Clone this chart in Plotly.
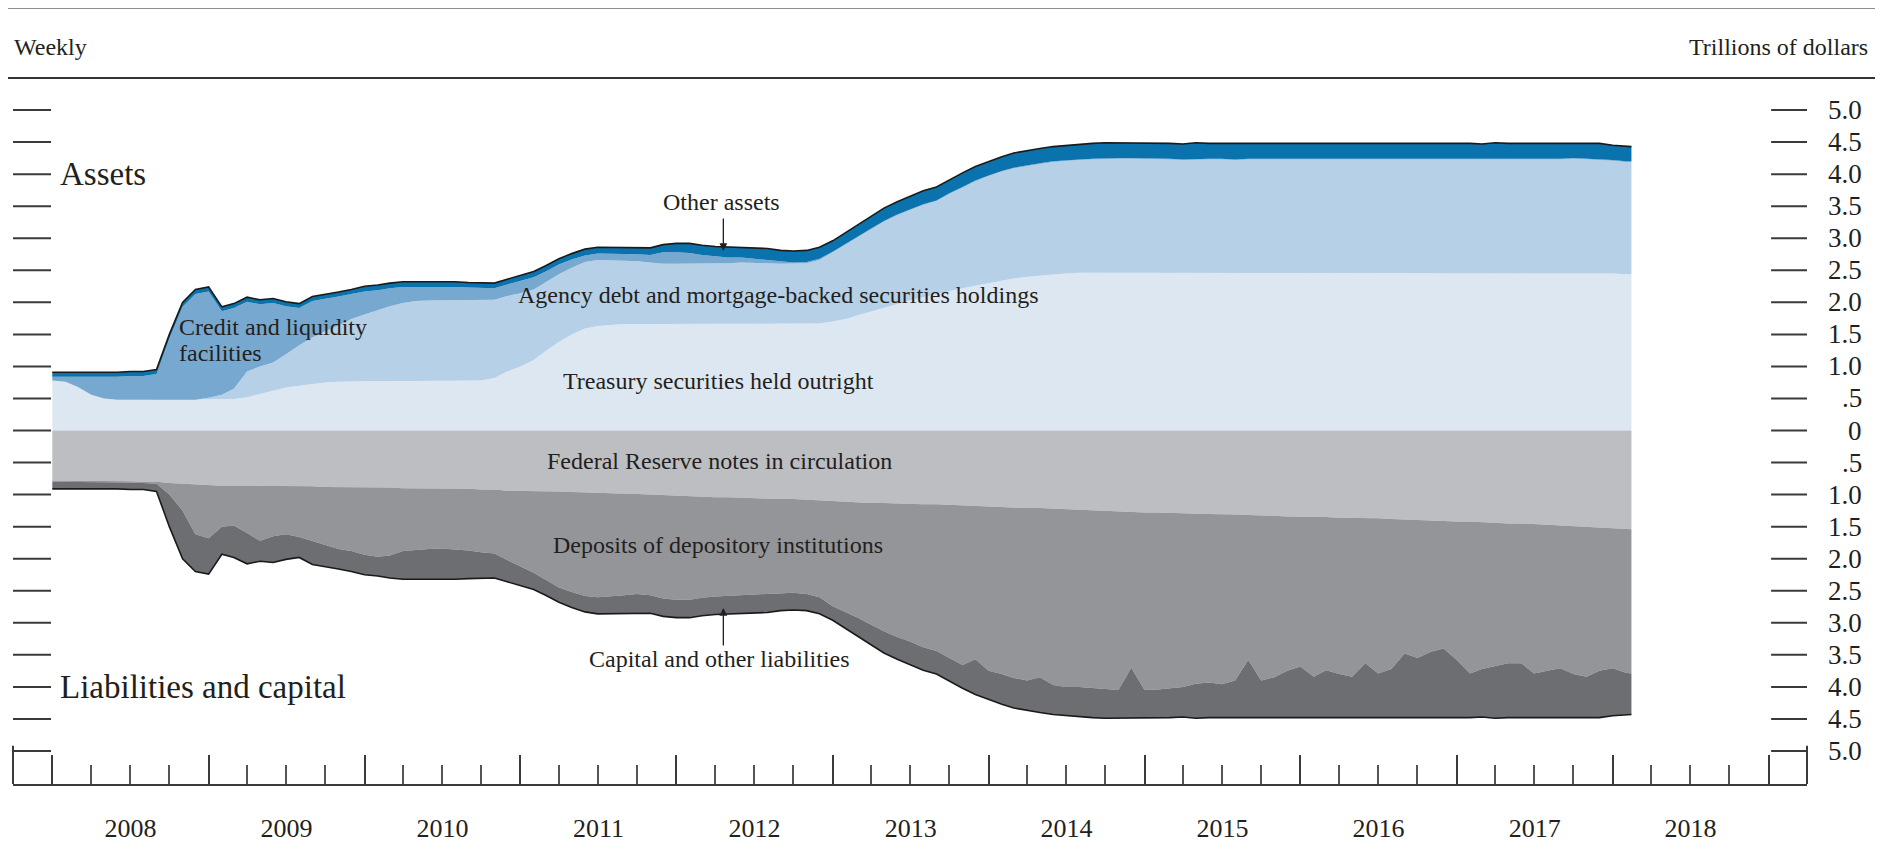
import pandas as pd
import plotly.graph_objects as go

# ---- data (trillions of dollars), monthly ----
dates = [d.strftime("%Y-%m-%d") for d in pd.date_range("2008-01-01", "2018-02-01", freq="MS")] + ["2018-02-14"]

treasury = [
    .78, .76, .68, .56, .50, .48, .48, .48, .48, .48, .48, .48,
    .48, .48, .49, .52, .57, .62, .67, .70, .73, .75, .76, .77,
    .77, .77, .77, .77, .77, .77, .77, .77, .77, .78, .82, .92,
    1.00, 1.10, 1.24, 1.38, 1.50, 1.59, 1.63, 1.65, 1.66, 1.66, 1.66, 1.66,
    1.66, 1.66, 1.66, 1.66, 1.66, 1.66, 1.66, 1.66, 1.66, 1.66, 1.66, 1.67,
    1.70, 1.74, 1.80, 1.86, 1.92, 1.98, 2.03, 2.08, 2.13, 2.18, 2.22, 2.26,
    2.30, 2.34, 2.37, 2.40, 2.42, 2.44, 2.45, 2.46, 2.46, 2.46, 2.46, 2.46,
    2.46, 2.46, 2.46, 2.46, 2.46, 2.46, 2.46, 2.46, 2.46, 2.46, 2.46, 2.46,
    2.46, 2.46, 2.46, 2.46, 2.46, 2.46, 2.46, 2.46, 2.46, 2.46, 2.46, 2.46,
    2.46, 2.46, 2.46, 2.46, 2.46, 2.46, 2.46, 2.46, 2.46, 2.46, 2.46, 2.46,
    2.45, 2.44, 2.44,
]
agency = [
    0, 0, 0, 0, 0, 0, 0, 0, 0, 0, 0, 0,
    .03, .08, .16, .40, .43, .44, .52, .63, .72, .80, .88, .97,
    1.04, 1.11, 1.17, 1.22, 1.25, 1.26, 1.26, 1.26, 1.26, 1.25, 1.22, 1.18,
    1.14, 1.10, 1.08, 1.06, 1.04, 1.04, 1.03, 1.01, .99, .98, .96, .94,
    .94, .94, .95, .95, .95, .96, .96, .95, .94, .94, .95, .99,
    1.08, 1.16, 1.22, 1.28, 1.34, 1.38, 1.41, 1.44, 1.45, 1.51, 1.57, 1.63,
    1.67, 1.70, 1.72, 1.73, 1.74, 1.75, 1.76, 1.76, 1.77, 1.78, 1.78, 1.78,
    1.78, 1.77, 1.77, 1.76, 1.77, 1.77, 1.77, 1.76, 1.77, 1.77, 1.76, 1.77,
    1.77, 1.76, 1.76, 1.77, 1.77, 1.76, 1.77, 1.77, 1.77, 1.76, 1.77, 1.77,
    1.77, 1.77, 1.76, 1.77, 1.77, 1.77, 1.77, 1.77, 1.77, 1.78, 1.77, 1.77,
    1.76, 1.75, 1.75,
]
credit = [
    .06, .08, .16, .27, .33, .36, .37, .37, .40, .95, 1.45, 1.65,
    1.66, 1.30, 1.26, 1.09, .97, .93, .75, .58, .57, .50, .45, .39,
    .36, .31, .28, .25, .22, .22, .22, .21, .20, .20, .18, .18,
    .19, .19, .16, .15, .13, .10, .10, .10, .11, .11, .12, .18,
    .18, .17, .13, .11, .09, .08, .06, .06, .04, .02, .02, .02,
    .01, .01, .01, .01, .01, .01, .01, .01, .01, .01, .01, .01,
    .01, .01, .01, .01, .01, .01, .01, .01, .01, .01, .01, .01,
    .01, .01, .01, .01, .01, .01, .01, .01, .01, .01, .01, .01,
    .01, .01, .01, .01, .01, .01, .01, .01, .01, .01, .01, .01,
    .01, .01, .01, .01, .01, .01, .01, .01, .01, .01, .01, .01,
    .01, .01, .01,
]
other_assets = [
    .07, .07, .07, .07, .07, .07, .07, .07, .07, .07, .07, .07,
    .07, .07, .07, .07, .07, .07, .07, .07, .07, .07, .07, .07,
    .08, .08, .08, .08, .08, .08, .08, .08, .08, .08, .08, .08,
    .09, .09, .09, .09, .09, .10, .10, .10, .10, .10, .11, .12,
    .14, .15, .15, .15, .16, .16, .17, .17, .17, .18, .18, .18,
    .17, .18, .19, .20, .20, .20, .20, .21, .21, .21, .22, .22,
    .22, .22, .23, .23, .23, .23, .23, .24, .24, .24, .24, .24,
    .24, .25, .24, .24, .25, .24, .24, .25, .24, .24, .25, .24,
    .24, .25, .25, .24, .24, .25, .24, .24, .25, .25, .24, .24,
    .25, .24, .24, .25, .24, .24, .25, .24, .24, .24, .24, .24,
    .23, .23, .23,
]

notes = [
    .78, .78, .78, .78, .78, .79, .79, .80, .80, .82, .83, .85,
    .85, .86, .86, .86, .87, .87, .87, .87, .87, .88, .88, .89,
    .89, .89, .89, .90, .90, .90, .90, .91, .91, .92, .92, .94,
    .94, .94, .95, .95, .96, .96, .97, .98, .98, .99, 1.00, 1.01,
    1.02, 1.02, 1.03, 1.04, 1.04, 1.05, 1.05, 1.06, 1.07, 1.07, 1.08, 1.10,
    1.11, 1.12, 1.12, 1.13, 1.13, 1.14, 1.14, 1.15, 1.15, 1.16, 1.16, 1.18,
    1.18, 1.19, 1.20, 1.21, 1.21, 1.22, 1.23, 1.23, 1.24, 1.25, 1.26, 1.28,
    1.28, 1.28, 1.29, 1.29, 1.30, 1.30, 1.31, 1.31, 1.32, 1.32, 1.33, 1.34,
    1.34, 1.35, 1.35, 1.36, 1.36, 1.37, 1.37, 1.38, 1.39, 1.39, 1.40, 1.42,
    1.42, 1.42, 1.43, 1.44, 1.45, 1.45, 1.46, 1.47, 1.48, 1.49, 1.50, 1.52,
    1.53, 1.54, 1.54,
]
deposits = [
    .02, .02, .02, .02, .02, .02, .02, .02, .03, .18, .42, .77,
    .83, .64, .62, .74, .85, .78, .75, .79, .85, .90, .97, .99,
    1.05, 1.08, 1.06, .98, .96, .95, .94, .94, .96, .98, 1.00, 1.08,
    1.18, 1.28, 1.38, 1.50, 1.56, 1.62, 1.63, 1.61, 1.59, 1.56, 1.57, 1.61,
    1.62, 1.62, 1.58, 1.55, 1.54, 1.52, 1.51, 1.50, 1.47, 1.46, 1.47, 1.50,
    1.63, 1.71, 1.80, 1.90, 2.00, 2.08, 2.15, 2.23, 2.29, 2.39, 2.50, 2.39,
    2.57, 2.61, 2.66, 2.69, 2.64, 2.75, 2.77, 2.77, 2.78, 2.79, 2.79, 2.42,
    2.77, 2.76, 2.73, 2.71, 2.65, 2.63, 2.65, 2.59, 2.26, 2.58, 2.52, 2.41,
    2.34, 2.49, 2.39, 2.44, 2.48, 2.26, 2.42, 2.34, 2.09, 2.16, 2.05, 1.98,
    2.16, 2.37, 2.29, 2.24, 2.18, 2.18, 2.33, 2.28, 2.23, 2.31, 2.34, 2.23,
    2.18, 2.24, 2.25,
]
capital = [
    .11, .11, .11, .10, .10, .10, .11, .10, .12, .50, .75, .58,
    .56, .43, .50, .48, .32, .41, .39, .32, .37, .34, .31, .32,
    .31, .30, .35, .44, .46, .48, .49, .47, .44, .41, .38, .34,
    .30, .26, .24, .23, .24, .25, .26, .27, .29, .30, .28, .28,
    .28, .28, .28, .28, .28, .29, .29, .28, .27, .27, .26, .26,
    .22, .26, .30, .32, .34, .35, .36, .36, .36, .36, .36, .55,
    .45, .47, .47, .47, .55, .46, .45, .47, .46, .45, .44, .79,
    .44, .45, .46, .47, .54, .55, .52, .58, .90, .58, .63, .73,
    .80, .64, .74, .68, .64, .85, .69, .76, 1.01, .93, 1.03, 1.08,
    .91, .69, .75, .81, .85, .85, .70, .73, .77, .69, .64, .73,
    .74, .65, .64,
]

y_ticks = [5.0, 4.5, 4.0, 3.5, 3.0, 2.5, 2.0, 1.5, 1.0, 0.5, 0,
           -0.5, -1.0, -1.5, -2.0, -2.5, -3.0, -3.5, -4.0, -4.5, -5.0]
y_tick_labels = ["5.0", "4.5", "4.0", "3.5", "3.0", "2.5", "2.0", "1.5", "1.0", ".5", "0",
                 ".5", "1.0", "1.5", "2.0", "2.5", "3.0", "3.5", "4.0", "4.5", "5.0"]

for s in (treasury, agency, credit, other_assets, notes, deposits, capital):
    assert len(s) == len(dates)

FONT = "Liberation Serif, Times New Roman, serif"
INK = "#231f20"

fig = go.Figure()

asset_layers = [
    ("Treasury securities held outright", treasury, "#dde7f2"),
    ("Agency debt and MBS", agency, "#b6d0e7"),
    ("Credit and liquidity facilities", credit, "#76a8d0"),
    ("Other assets", other_assets, "#0a72ad"),
]
for name, vals, color in asset_layers:
    top = name == "Other assets"
    fig.add_trace(go.Scatter(
        x=dates, y=vals, name=name, stackgroup="assets", mode="lines",
        fillcolor=color,
        line=dict(color="#1a1a1a" if top else color, width=1.6 if top else 0),
        hoverinfo="skip",
    ))

liab_layers = [
    ("Federal Reserve notes in circulation", notes, "#bdbec2"),
    ("Deposits of depository institutions", deposits, "#939598"),
    ("Capital and other liabilities", capital, "#6d6e72"),
]
for name, vals, color in liab_layers:
    bottom = name.startswith("Capital")
    fig.add_trace(go.Scatter(
        x=dates, y=[-v for v in vals], name=name, stackgroup="liab", mode="lines",
        fillcolor=color,
        line=dict(color="#1a1a1a" if bottom else color, width=1.6 if bottom else 0),
        hoverinfo="skip",
    ))

# tick marks and frame pieces
shapes = []
for v in y_ticks:
    shapes.append(dict(type="line", xref="paper", yref="y", x0=0, x1=0.0212, y0=v, y1=v,
                       line=dict(color="#3a3a3a", width=2)))
    shapes.append(dict(type="line", xref="paper", yref="y", x0=0.98, x1=1.0, y0=v, y1=v,
                       line=dict(color="#3a3a3a", width=2)))
for xp in (0, 1):
    shapes.append(dict(type="line", xref="paper", yref="y", x0=xp, x1=xp, y0=-5.515, y1=-4.92,
                       line=dict(color="#3a3a3a", width=2)))
# rule under the header
shapes.append(dict(type="line", xref="paper", yref="paper", x0=-0.003, x1=1.05, y0=1.0, y1=1.0,
                   line=dict(color="#333", width=2)))
# what is left of the thick top bar (page body margin eats most of it)
shapes.append(dict(type="rect", xref="paper", yref="paper", x0=-0.003, x1=1.05, y0=1.0984, y1=1.12,
                   fillcolor="#1e1e1e", line=dict(width=0)))

annotations = []
for v, lab in zip(y_ticks, y_tick_labels):
    annotations.append(dict(xref="paper", yref="y", x=1.0317, y=v, text=lab, showarrow=False,
                            xanchor="right", yanchor="middle", font=dict(size=27)))


def label(x, y, text, size=24, xanchor="center", xref="x"):
    annotations.append(dict(xref=xref, yref="y", x=x, y=y, text=text, showarrow=False,
                            xanchor=xanchor, yanchor="middle", font=dict(size=size)))


label(0.0251, 4.0, "Assets", size=33, xanchor="left", xref="paper")
label(0.0251, -4.0, "Liabilities and capital", size=33, xanchor="left", xref="paper")
label("2008-10-19", 1.61, "Credit and liquidity", xanchor="left")
label("2008-10-19", 1.21, "facilities", xanchor="left")
label("2012-04-15", 3.56, "Other assets")
label("2012-08-28", 2.11, "Agency debt and mortgage-backed securities holdings")
label("2012-04-08", 0.77, "Treasury securities held outright")
label("2012-04-10", -0.48, "Federal Reserve notes in circulation")
label("2012-04-08", -1.79, "Deposits of depository institutions")
label("2012-04-10", -3.56, "Capital and other liabilities")

# arrows
annotations.append(dict(x="2012-04-20", y=2.80, xref="x", yref="y", text="", showarrow=True,
                        ax=0, ay=-34, arrowhead=2, arrowsize=1.2, arrowwidth=1.3, arrowcolor=INK))
annotations.append(dict(x="2012-04-20", y=-2.77, xref="x", yref="y", text="", showarrow=True,
                        ax=0, ay=39, arrowhead=2, arrowsize=1.2, arrowwidth=1.3, arrowcolor=INK))

# header
annotations.append(dict(xref="paper", yref="paper", x=-0.0006, y=1.0439, text="Weekly",
                        showarrow=False, xanchor="left", yanchor="middle", font=dict(size=24)))
annotations.append(dict(xref="paper", yref="paper", x=1.035, y=1.0439, text="Trillions of dollars",
                        showarrow=False, xanchor="right", yanchor="middle", font=dict(size=24)))

# the page body has an 8px margin, so the figure is 8px smaller and shifted up/left
fig.update_layout(
    width=1875, height=842,
    margin=dict(l=5, r=76, t=70, b=66),
    paper_bgcolor="white", plot_bgcolor="white",
    font=dict(family=FONT, color=INK, size=24),
    showlegend=False,
    shapes=shapes,
    annotations=annotations,
    xaxis=dict(
        type="date", range=["2007-10-01", "2019-04-01"],
        tick0="2008-01-01", dtick="M12", tickformat="%Y", ticklabelmode="period",
        ticks="inside", ticklen=29, tickwidth=1.5, tickcolor="#3a3a3a",
        minor=dict(dtick="M3", ticks="inside", ticklen=19, tickwidth=1.5, tickcolor="#555"),
        showline=True, linecolor="#3a3a3a", linewidth=2,
        showgrid=False, zeroline=False,
        tickfont=dict(size=26), ticklabelstandoff=20,
    ),
    yaxis=dict(
        range=[-5.515, 5.5], showticklabels=False, showgrid=False,
        zeroline=False, showline=False, ticks="",
    ),
)

fig.write_html("out.html")
